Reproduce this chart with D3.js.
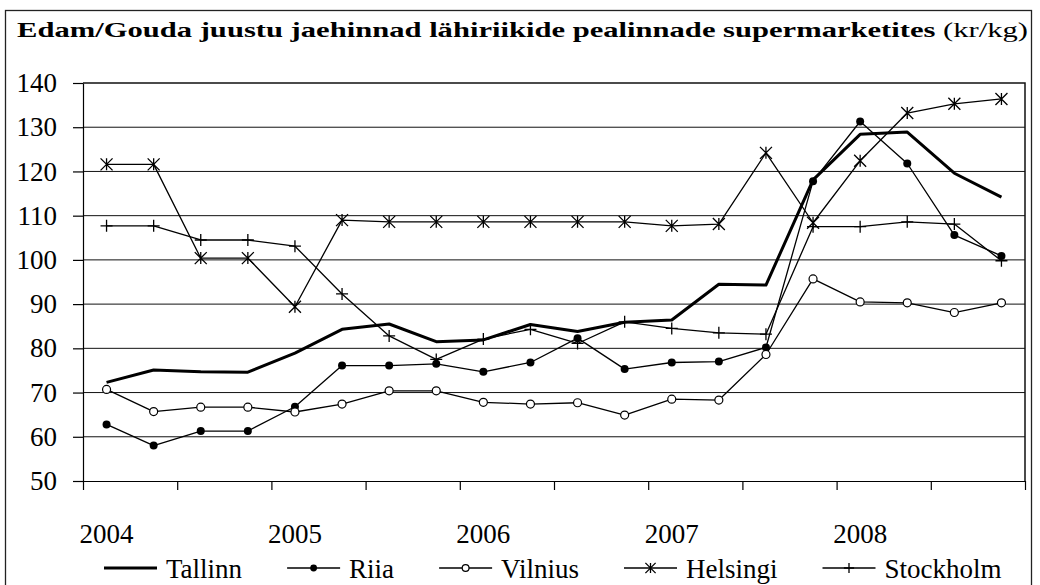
<!DOCTYPE html>
<html>
<head>
<meta charset="utf-8">
<script src="https://cdn.jsdelivr.net/npm/d3@7"></script>
<style>
body { margin: 0; background: #fff; }
svg { display: block; }
svg text { font-family: "Liberation Serif", "Times New Roman", Times, "DejaVu Serif", serif; }
</style>
</head>
<body>
<svg id="chart" width="1040" height="585"></svg>
<script>
//////////
// DATA //
//////////
var quarters = [
	"2004 I", "2004 II", "2004 III", "2004 IV",
	"2005 I", "2005 II", "2005 III", "2005 IV",
	"2006 I", "2006 II", "2006 III", "2006 IV",
	"2007 I", "2007 II", "2007 III", "2007 IV",
	"2008 I", "2008 II", "2008 III", "2008 IV"
];
var yearLabels = [
	"2004", "", "", "",
	"2005", "", "", "",
	"2006", "", "", "",
	"2007", "", "", "",
	"2008", "", "", ""
];
var yTicks = [50, 60, 70, 80, 90, 100, 110, 120, 130, 140];

var tallinn = [72.3, 75.1, 74.7, 74.6, 78.9, 84.3, 85.5, 81.5, 81.9, 85.4, 83.8, 85.9, 86.4, 94.5, 94.3, 118.1, 128.4, 128.9, 119.6, 114.2];
var riia = [62.8, 58.0, 61.3, 61.3, 66.8, 76.1, 76.1, 76.5, 74.7, 76.8, 82.3, 75.3, 76.8, 77.0, 80.2, 117.8, 131.3, 121.8, 105.6, 100.9];
var vilnius = [70.7, 65.7, 66.7, 66.7, 65.6, 67.4, 70.4, 70.4, 67.8, 67.4, 67.7, 64.9, 68.5, 68.3, 78.6, 95.7, 90.5, 90.3, 88.1, 90.3];
var helsingi = [121.6, 121.6, 100.4, 100.4, 89.4, 109.0, 108.6, 108.6, 108.6, 108.6, 108.6, 108.6, 107.7, 108.1, 124.2, 108.4, 122.4, 133.2, 135.3, 136.4];
var stockholm = [107.7, 107.7, 104.5, 104.5, 103.1, 92.3, 82.8, 77.5, 82.1, 84.3, 81.1, 86.0, 84.5, 83.5, 83.2, 107.5, 107.5, 108.6, 108.1, 99.8];

var seriesNames = ["Tallinn", "Riia", "Vilnius", "Helsingi", "Stockholm"];
var seriesValues = [tallinn, riia, vilnius, helsingi, stockholm];
var seriesMarkers = ["none", "dot", "circle", "star", "plus"];

/////////////////
// "CONSTANTS" //
/////////////////
var PLOT_LEFT = 83;
var PLOT_RIGHT = 1025;
var PLOT_TOP = 83;
var PLOT_BOTTOM = 481;
var LABEL_SIZE = 27;
var LINE_WIDTH = 1.3;
var LINE_WIDTH_BOLD = 3;

var svg = d3.select("#chart");

// outer frame
svg.append("rect")
	.attr("x", 5.5)
	.attr("y", 10.5)
	.attr("width", 1026)
	.attr("height", 600)
	.attr("fill", "none")
	.attr("stroke", "#222")
	.attr("stroke-width", 1.3);

// title (stretched like the original EMF text)
var title = svg.append("text")
	.attr("x", 17)
	.attr("y", 37)
	.attr("font-size", 21)
	.attr("textLength", 1011)
	.attr("lengthAdjust", "spacingAndGlyphs");
title.append("tspan")
	.attr("font-weight", "bold")
	.text("Edam/Gouda juustu jaehinnad lähiriikide pealinnade supermarketites");
title.append("tspan")
	.text(" (kr/kg)");

////////////
// SCALES //
////////////
var x = d3.scaleBand()
	.domain(quarters)
	.range([PLOT_LEFT, PLOT_RIGHT])
	.padding(0);
var xEdge = d3.scaleLinear()
	.domain([0, quarters.length])
	.range([PLOT_LEFT, PLOT_RIGHT]);
var y = d3.scaleLinear()
	.domain([50, 140])
	.range([PLOT_BOTTOM, PLOT_TOP]);
var cx = function(i) { return x(quarters[i]) + x.bandwidth() / 2; };

// gridlines
svg.append("g")
	.selectAll("line")
	.data(yTicks.filter(function(v) { return v > 50 && v < 140; }))
	.enter().append("line")
	.attr("x1", PLOT_LEFT)
	.attr("x2", PLOT_RIGHT)
	.attr("y1", function(v) { return y(v); })
	.attr("y2", function(v) { return y(v); })
	.attr("stroke", "#111")
	.attr("stroke-width", 1);

// plot box (top + right)
svg.append("path")
	.attr("d", "M" + PLOT_LEFT + "," + y(140) + "H" + PLOT_RIGHT + "V" + PLOT_BOTTOM)
	.attr("fill", "none")
	.attr("stroke", "#111")
	.attr("stroke-width", 1.5);

//////////
// AXES //
//////////
var yAxis = svg.append("g")
	.attr("transform", "translate(" + PLOT_LEFT + ",0)")
	.call(d3.axisLeft(y).tickValues(yTicks).tickSize(10).tickSizeOuter(0).tickPadding(16));
var xAxis = svg.append("g")
	.attr("transform", "translate(0," + PLOT_BOTTOM + ")")
	.call(d3.axisBottom(xEdge).tickValues(d3.range(0, quarters.length + 1, 2)).tickFormat("").tickSize(9).tickSizeOuter(0));
[yAxis, xAxis].forEach(function(g) {
	g.attr("font-family", null);
	g.selectAll("path, line").attr("stroke", "#000").attr("stroke-width", 1.2);
	g.selectAll("text")
		.attr("font-size", LABEL_SIZE)
		.attr("fill", "#000");
});

svg.append("g")
	.selectAll("text")
	.data(quarters)
	.enter().append("text")
	.attr("x", function(q, i) { return cx(i); })
	.attr("y", 543)
	.attr("text-anchor", "middle")
	.attr("font-size", LABEL_SIZE)
	.text(function(q, i) { return yearLabels[i]; });

/////////////
// MARKERS //
/////////////
var drawMarker = function(g, type, px, py, small) {
	var s = small ? 0.85 : 1;
	if (type == "dot") {
		g.append("circle").attr("cx", px).attr("cy", py).attr("r", 4 * s)
			.attr("fill", "#000");
	} else if (type == "circle") {
		g.append("circle").attr("cx", px).attr("cy", py).attr("r", 4 * s)
			.attr("fill", "#fff").attr("stroke", "#000").attr("stroke-width", 1.2);
	} else if (type == "star") {
		var h = 6 * s;
		g.append("path")
			.attr("d", "M" + (px - h) + "," + (py - h) + "L" + (px + h) + "," + (py + h) +
				"M" + (px - h) + "," + (py + h) + "L" + (px + h) + "," + (py - h) +
				"M" + px + "," + (py - h) + "V" + (py + h))
			.attr("stroke", "#000").attr("stroke-width", 1.3).attr("fill", "none");
	} else if (type == "plus") {
		var p = 6 * s;
		g.append("path")
			.attr("d", "M" + (px - p) + "," + py + "H" + (px + p) +
				"M" + px + "," + (py - p) + "V" + (py + p))
			.attr("stroke", "#000").attr("stroke-width", 1.3).attr("fill", "none");
	}
};

////////////
// SERIES //
////////////
var line = d3.line()
	.x(function(d, i) { return cx(i); })
	.y(function(d) { return y(d); });

seriesValues.forEach(function(values, k) {
	var g = svg.append("g");
	g.append("path")
		.datum(values)
		.attr("d", line)
		.attr("fill", "none")
		.attr("stroke", "#000")
		.attr("stroke-width", k == 0 ? LINE_WIDTH_BOLD : LINE_WIDTH)
		.attr("stroke-linejoin", "round");
	values.forEach(function(v, i) {
		drawMarker(g, seriesMarkers[k], cx(i), y(v), false);
	});
});

////////////
// LEGEND //
////////////
var legend = svg.append("g");
var lx = 104;
var LEGEND_Y = 568;
seriesNames.forEach(function(name, k) {
	legend.append("line")
		.attr("x1", lx)
		.attr("x2", lx + 53)
		.attr("y1", LEGEND_Y)
		.attr("y2", LEGEND_Y)
		.attr("stroke", "#000")
		.attr("stroke-width", k == 0 ? LINE_WIDTH_BOLD : LINE_WIDTH);
	drawMarker(legend, seriesMarkers[k], lx + 26.5, LEGEND_Y, true);
	var t = legend.append("text")
		.attr("x", lx + 62)
		.attr("y", 578)
		.attr("font-size", LABEL_SIZE)
		.text(name);
	lx = lx + 62 + t.node().getComputedTextLength() + 45;
});
</script>
</body>
</html>
